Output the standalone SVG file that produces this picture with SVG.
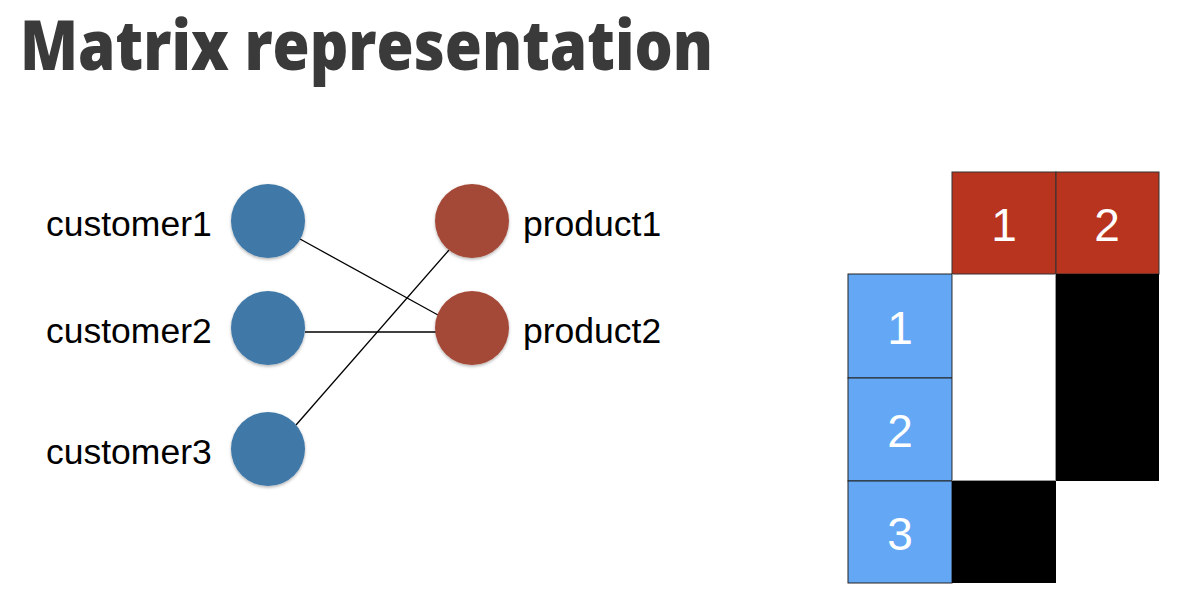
<svg xmlns="http://www.w3.org/2000/svg" width="1190" height="614" viewBox="0 0 1190 614">
<style>
.title{font-family:"Open Sans","Noto Sans",sans-serif;font-weight:800;font-size:63px;fill:#3a3a3a}
.lbl{font-family:"Liberation Sans",Arial,sans-serif;font-size:35.5px;fill:#000}
.num{font-family:"Liberation Sans",Arial,sans-serif;font-size:46px;fill:#fff;text-anchor:middle}
.cust{fill:#3f78a8}
.prod{fill:#a44a38}
.edge{stroke:#000;stroke-width:1.3;fill:none}
.hdr{fill:#b8341f;stroke:#333;stroke-width:1}
.row{fill:#64a7f4;stroke:#222;stroke-width:1}
.on{fill:#000}
.off{fill:#fff;stroke:#999;stroke-width:1}
</style>
<defs>
<filter id="sh" x="-20%" y="-20%" width="140%" height="140%">
<feDropShadow dx="0" dy="1.5" stdDeviation="1.5" flood-color="#000" flood-opacity="0.3"/>
</filter>
</defs>
<rect width="1190" height="614" fill="#fff"/>
<text class="title" transform="translate(20,70) scale(1,1.09)" x="0" y="0" textLength="693" lengthAdjust="spacingAndGlyphs">Matrix representation</text>
<g id="connectors">
<line class="edge" x1="300" y1="239" x2="438" y2="315"/>
<line class="edge" x1="305" y1="332" x2="436" y2="332"/>
<line class="edge" x1="296" y1="425" x2="449" y2="250"/>
</g>
<g id="customer1"><circle class="cust" cx="268" cy="221" r="37" filter="url(#sh)"/><text class="lbl" x="46" y="236">customer1</text></g>
<g id="customer2"><circle class="cust" cx="268" cy="328" r="37" filter="url(#sh)"/><text class="lbl" x="46" y="343">customer2</text></g>
<g id="customer3"><circle class="cust" cx="268" cy="449" r="37" filter="url(#sh)"/><text class="lbl" x="46" y="464">customer3</text></g>
<g id="product1"><circle class="prod" cx="472" cy="221" r="37" filter="url(#sh)"/><text class="lbl" x="523" y="236">product1</text></g>
<g id="product2"><circle class="prod" cx="472" cy="328" r="37" filter="url(#sh)"/><text class="lbl" x="523" y="343">product2</text></g>
<g id="matrix">
<rect class="hdr" x="952" y="172" width="104" height="102"/>
<rect class="hdr" x="1056" y="172" width="103" height="102"/>
<text class="num" x="1004" y="241">1</text>
<text class="num" x="1107" y="241">2</text>
<rect class="row" x="848" y="274" width="104" height="104"/>
<rect class="row" x="848" y="378" width="104" height="103"/>
<rect class="row" x="848" y="481" width="104" height="102"/>
<text class="num" x="900" y="344">1</text>
<text class="num" x="900" y="447">2</text>
<text class="num" x="900" y="550">3</text>
<rect class="off" x="952.5" y="274.5" width="103" height="206"/>
<rect class="on" x="1056" y="274" width="103" height="207"/>
<rect class="on" x="952" y="481" width="104" height="102"/>
</g>
</svg>
